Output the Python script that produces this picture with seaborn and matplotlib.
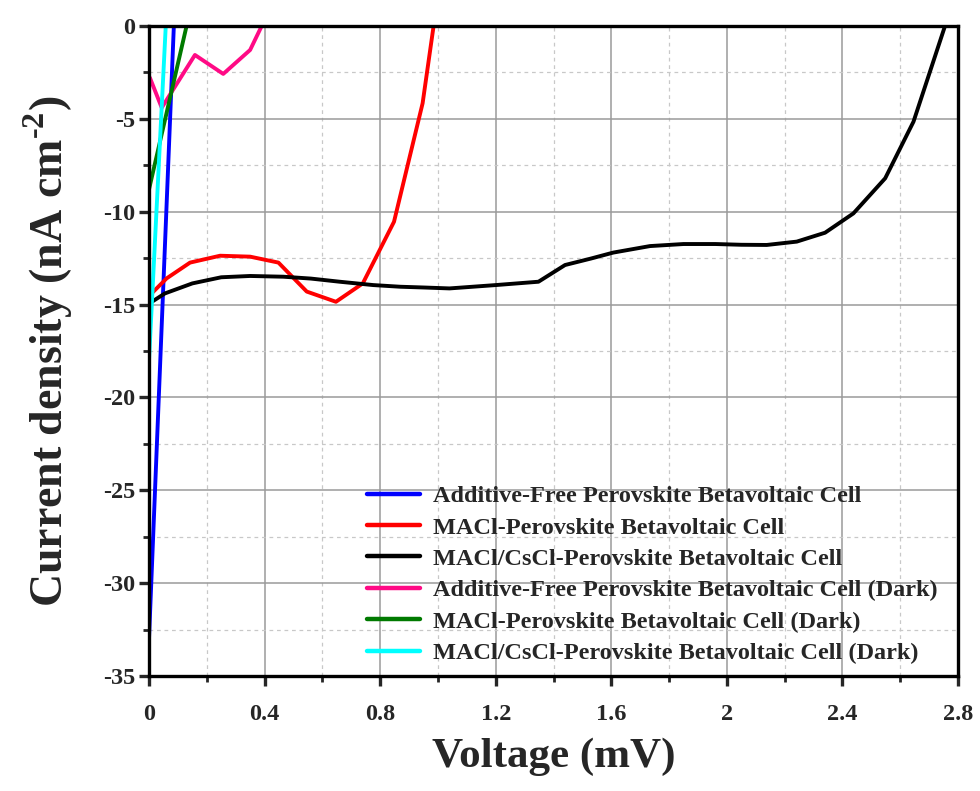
import matplotlib
matplotlib.use("Agg")
import matplotlib.pyplot as plt
from matplotlib.ticker import MultipleLocator, FuncFormatter
import numpy as np
import pandas as pd
import seaborn as sns

# J-V curves of perovskite betavoltaic cells (illuminated and dark)
v_free = [0.0, 0.086]
j_free = [-33.0, 0.0]

v_macl = [0.009, 0.061, 0.142, 0.246, 0.35, 0.448, 0.546, 0.647, 0.74, 0.848, 0.947, 0.985]
j_macl = [-14.4, -13.59, -12.74, -12.37, -12.42, -12.74, -14.3, -14.85, -13.86, -10.54, -4.16, 0.0]

v_cscl = [0.01, 0.055, 0.15, 0.25, 0.35, 0.465, 0.56, 0.66, 0.776, 0.87, 0.95, 1.04,
          1.2, 1.348, 1.44, 1.53, 1.607, 1.734, 1.85, 1.96, 2.05, 2.138, 2.242, 2.34,
          2.438, 2.548, 2.646, 2.755]
j_cscl = [-14.85, -14.4, -13.86, -13.53, -13.46, -13.5, -13.6, -13.77, -13.95, -14.04,
          -14.08, -14.13, -13.95, -13.77, -12.87, -12.52, -12.2, -11.85, -11.74, -11.74,
          -11.78, -11.79, -11.61, -11.13, -10.09, -8.2, -5.15, 0.0]

v_free_dark = [0.003, 0.044, 0.159, 0.257, 0.35, 0.39]
j_free_dark = [-2.78, -4.4, -1.56, -2.58, -1.29, 0.0]

v_macl_dark = [0.0, 0.13]
j_macl_dark = [-8.8, 0.0]

v_cscl_dark = [0.0, 0.058]
j_cscl_dark = [-18.0, 0.0]

labels = [
    "Additive-Free Perovskite Betavoltaic Cell",
    "MACl-Perovskite Betavoltaic Cell",
    "MACl/CsCl-Perovskite Betavoltaic Cell",
    "Additive-Free Perovskite Betavoltaic Cell (Dark)",
    "MACl-Perovskite Betavoltaic Cell (Dark)",
    "MACl/CsCl-Perovskite Betavoltaic Cell (Dark)",
]
colors = ["#0000FF", "#FF0000", "#000000", "#FF0A85", "#007A00", "#00FFFF"]

series = [(v_free, j_free), (v_macl, j_macl), (v_cscl, j_cscl),
          (v_free_dark, j_free_dark), (v_macl_dark, j_macl_dark), (v_cscl_dark, j_cscl_dark)]

frames = []
for lab, (v, j) in zip(labels, series):
    frames.append(pd.DataFrame({"Voltage": v, "J": j, "Cell": lab}))
df = pd.concat(frames, ignore_index=True)

sns.set_style("white")
plt.rcParams["font.family"] = ["Liberation Serif", "DejaVu Serif"]
plt.rcParams["font.weight"] = "bold"
plt.rcParams["axes.unicode_minus"] = False
plt.rcParams["mathtext.fontset"] = "custom"
plt.rcParams["mathtext.rm"] = "Liberation Serif:bold"
plt.rcParams["mathtext.bf"] = "Liberation Serif:bold"

fig = plt.figure(figsize=(9.8, 7.91), dpi=100)
ax = fig.add_axes([149 / 980, 1 - 676 / 791, (958 - 149) / 980, (676 - 26) / 791])

sns.lineplot(data=df, x="Voltage", y="J", hue="Cell", hue_order=labels,
             palette=dict(zip(labels, colors)), sort=False, estimator=None,
             units="Cell", linewidth=2.8, ax=ax, legend=True)

ax.set_xlim(0, 2.8)
ax.set_ylim(-35, 0)

ax.xaxis.set_major_locator(MultipleLocator(0.4))
ax.xaxis.set_minor_locator(MultipleLocator(0.2))
ax.yaxis.set_major_locator(MultipleLocator(5))
ax.yaxis.set_minor_locator(MultipleLocator(2.5))

def fmt_x(val, pos):
    s = f"{val:.1f}"
    return s[:-2] if s.endswith(".0") else s

ax.xaxis.set_major_formatter(FuncFormatter(fmt_x))
ax.yaxis.set_major_formatter(FuncFormatter(lambda val, pos: f"{int(round(val))}"))

ax.grid(which="major", color="#9a9a9a", linestyle="-", linewidth=1.1)
ax.grid(which="minor", color="#c8c8c8", linestyle=(0, (3, 3)), linewidth=0.9)
ax.set_axisbelow(True)

for sp in ax.spines.values():
    sp.set_linewidth(2.4)
    sp.set_color("black")
    sp.set_visible(True)

ax.tick_params(which="major", direction="out", length=7, width=2.4,
               labelsize=17.5, top=False, right=False, bottom=True, left=True)
ax.tick_params(axis="x", which="major", pad=13)
ax.tick_params(axis="y", which="major", pad=3)
ax.tick_params(which="minor", direction="out", length=4.5, width=2.0,
               top=False, right=False, bottom=True, left=True)
for lbl in ax.get_xticklabels() + ax.get_yticklabels():
    lbl.set_fontweight("bold")

ax.set_xlabel("Voltage (mV)", fontsize=31, fontweight="bold", labelpad=9)
ax.set_ylabel(r"Current density (nA cm$^{\text{-2}}$)", fontsize=33,
              fontweight="bold", labelpad=20)

handles, labs = ax.get_legend_handles_labels()
for h in handles:
    h.set_linewidth(3.2)
leg = ax.legend(handles, labs, loc="upper left",
                bbox_to_anchor=((367 - 149) / 809, (676 - 485) / 650),
                frameon=False, handlelength=2.2, handletextpad=0.5,
                labelspacing=0.39, borderpad=0, borderaxespad=0,
                prop={"weight": "bold", "size": 17.5})

fig.savefig("out.png", dpi=100)
